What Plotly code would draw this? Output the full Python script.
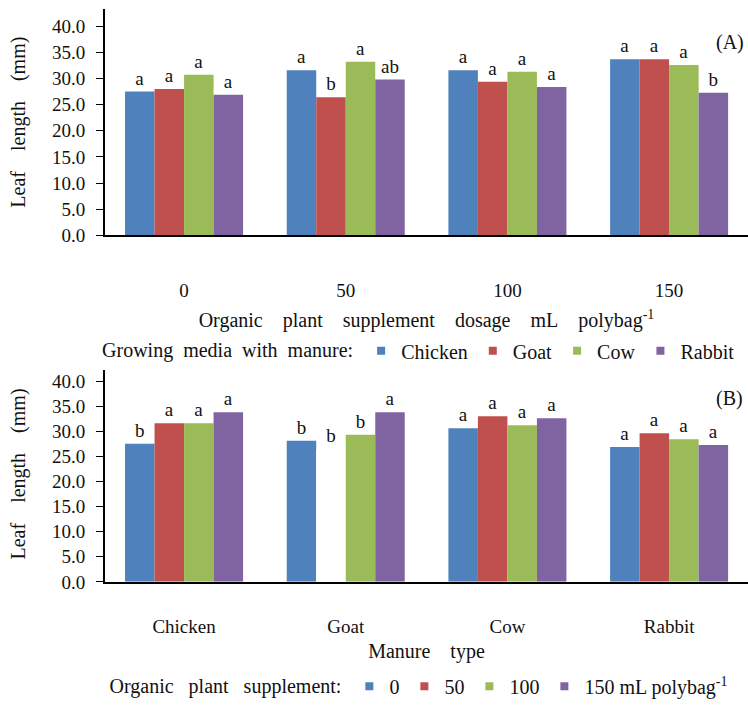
import plotly.graph_objects as go

dosages = ["0", "50", "100", "150"]
manures = ["Chicken", "Goat", "Cow", "Rabbit"]
colors = ["#4F81BD", "#C0504D", "#9BBB59", "#8064A2"]

# Panel A: leaf length by dosage, one series per manure
chicken_A = [27.5, 31.6, 31.6, 33.7]
goat_A = [28.0, 26.4, 29.4, 33.7]
cow_A = [30.7, 33.2, 31.3, 32.6]
rabbit_A = [26.9, 29.8, 28.4, 27.3]
letters_A = [["a", "a", "a", "a"], ["a", "b", "a", "a"], ["a", "a", "a", "a"], ["a", "ab", "a", "b"]]

# Panel B: leaf length by manure, one series per dosage
d0_B = [27.5, 28.1, 30.6, 26.9]
d50_B = [31.6, 26.4, 33.0, 29.6]
d100_B = [31.6, 29.3, 31.2, 28.4]
d150_B = [33.8, 33.8, 32.6, 27.3]
letters_B = [["b", "b", "a", "a"], ["a", "b", "a", "a"], ["a", "b", "a", "a"], ["a", "a", "a", "a"]]
names_B = ["0", "50", "100", "150 mL polybag<sup>-1</sup>"]

FONT = "Liberation Serif"
INK = "#111"
SP = "\u00a0"


def wide(s, n):
    return (SP * n + " ").join(s.split(" "))


fig = go.Figure()

seriesA = [chicken_A, goat_A, cow_A, rabbit_A]
for i, (name, vals) in enumerate(zip(manures, seriesA)):
    fig.add_trace(go.Bar(x=dosages, y=vals, name=name, marker_color=colors[i],
                         marker_line_width=0, text=letters_A[i], textposition="outside",
                         textfont=dict(family=FONT, size=19, color=INK), cliponaxis=False,
                         xaxis="x", yaxis="y", showlegend=False))
    fig.add_trace(go.Scatter(x=[None], y=[None], mode="markers", name=name,
                             marker=dict(symbol="square", size=8, color=colors[i]),
                             xaxis="x", yaxis="y", legend="legend"))

seriesB = [d0_B, d50_B, d100_B, d150_B]
for i, (name, vals) in enumerate(zip(names_B, seriesB)):
    cols = [colors[i]] * 4
    if i == 1:
        cols[1] = "white"  # goat bar drawn blank in the original
    fig.add_trace(go.Bar(x=manures, y=vals, name=name, marker_color=cols,
                         marker_line_width=0, text=letters_B[i], textposition="outside",
                         textfont=dict(family=FONT, size=19, color=INK), cliponaxis=False,
                         xaxis="x2", yaxis="y2", showlegend=False))
    fig.add_trace(go.Scatter(x=[None], y=[None], mode="markers", name=name,
                             marker=dict(symbol="square", size=8, color=colors[i]),
                             xaxis="x2", yaxis="y2", legend="legend2"))

yax = dict(tickmode="array", tickvals=[0, 5, 10, 15, 20, 25, 30, 35, 40],
           tickformat=".1f", showgrid=False, zeroline=False, showline=True, automargin=False,
           linecolor="black", linewidth=2, ticks="outside", ticklen=7, tickcolor="black",
           ticklabelstandoff=7,
           tickfont=dict(family=FONT, size=19, color=INK),
           title=dict(text=wide("Leaf length (mm)", 3), font=dict(family=FONT, size=20, color=INK), standoff=21))
xax = dict(showgrid=False, zeroline=False, showline=True, linecolor="black", linewidth=2,
           automargin=False, ticks="", tickfont=dict(family=FONT, size=19, color=INK))

fig.update_layout(
    width=748, height=706,
    margin=dict(l=105, r=0, t=0, b=0),
    paper_bgcolor="white", plot_bgcolor="white",
    barmode="group", bargap=0.27, bargroupgap=0,
    font=dict(family=FONT, color=INK),
    xaxis=dict(xax, domain=[0, 1], anchor="y", range=[-0.489, 3.488], ticklabelstandoff=37,
               title=dict(text=wide("Organic plant supplement dosage mL polybag<sup>-1</sup>", 3),
                          font=dict(family=FONT, size=20, color=INK), standoff=13)),
    yaxis=dict(yax, domain=[0.662, 0.987], anchor="x", range=[0, 43.3]),
    xaxis2=dict(xax, domain=[0, 1], anchor="y2", range=[-0.489, 3.488], ticklabelstandoff=26,
                title=dict(text=wide("Manure type", 3), font=dict(family=FONT, size=20, color=INK), standoff=8)),
    yaxis2=dict(yax, domain=[0.164, 0.474], anchor="x2", range=[0, 43.0]),
    legend=dict(orientation="h", x=0.49, xanchor="center", y=0.496, yanchor="middle",
                title=dict(text=wide("Growing media with manure:", 1), side="left",
                           font=dict(family=FONT, size=20, color=INK)),
                font=dict(family=FONT, size=20, color=INK), itemwidth=30, tracegroupgap=0),
    legend2=dict(orientation="h", x=0.49, xanchor="center", y=0.014, yanchor="middle",
                 title=dict(text=wide("Organic plant supplement:", 2), side="left",
                            font=dict(family=FONT, size=20, color=INK)),
                 font=dict(family=FONT, size=20, color=INK), itemwidth=30, tracegroupgap=0),
    annotations=[
        dict(text="(A)", xref="paper", yref="y", x=0.972, y=36.9, xanchor="center",
             showarrow=False, font=dict(family=FONT, size=20, color=INK)),
        dict(text="(B)", xref="paper", yref="y2", x=0.972, y=36.6, xanchor="center",
             showarrow=False, font=dict(family=FONT, size=20, color=INK)),
    ],
)

fig.write_html("out.html", config={"displayModeBar": False},
               post_script="document.body.style.margin='0';")
